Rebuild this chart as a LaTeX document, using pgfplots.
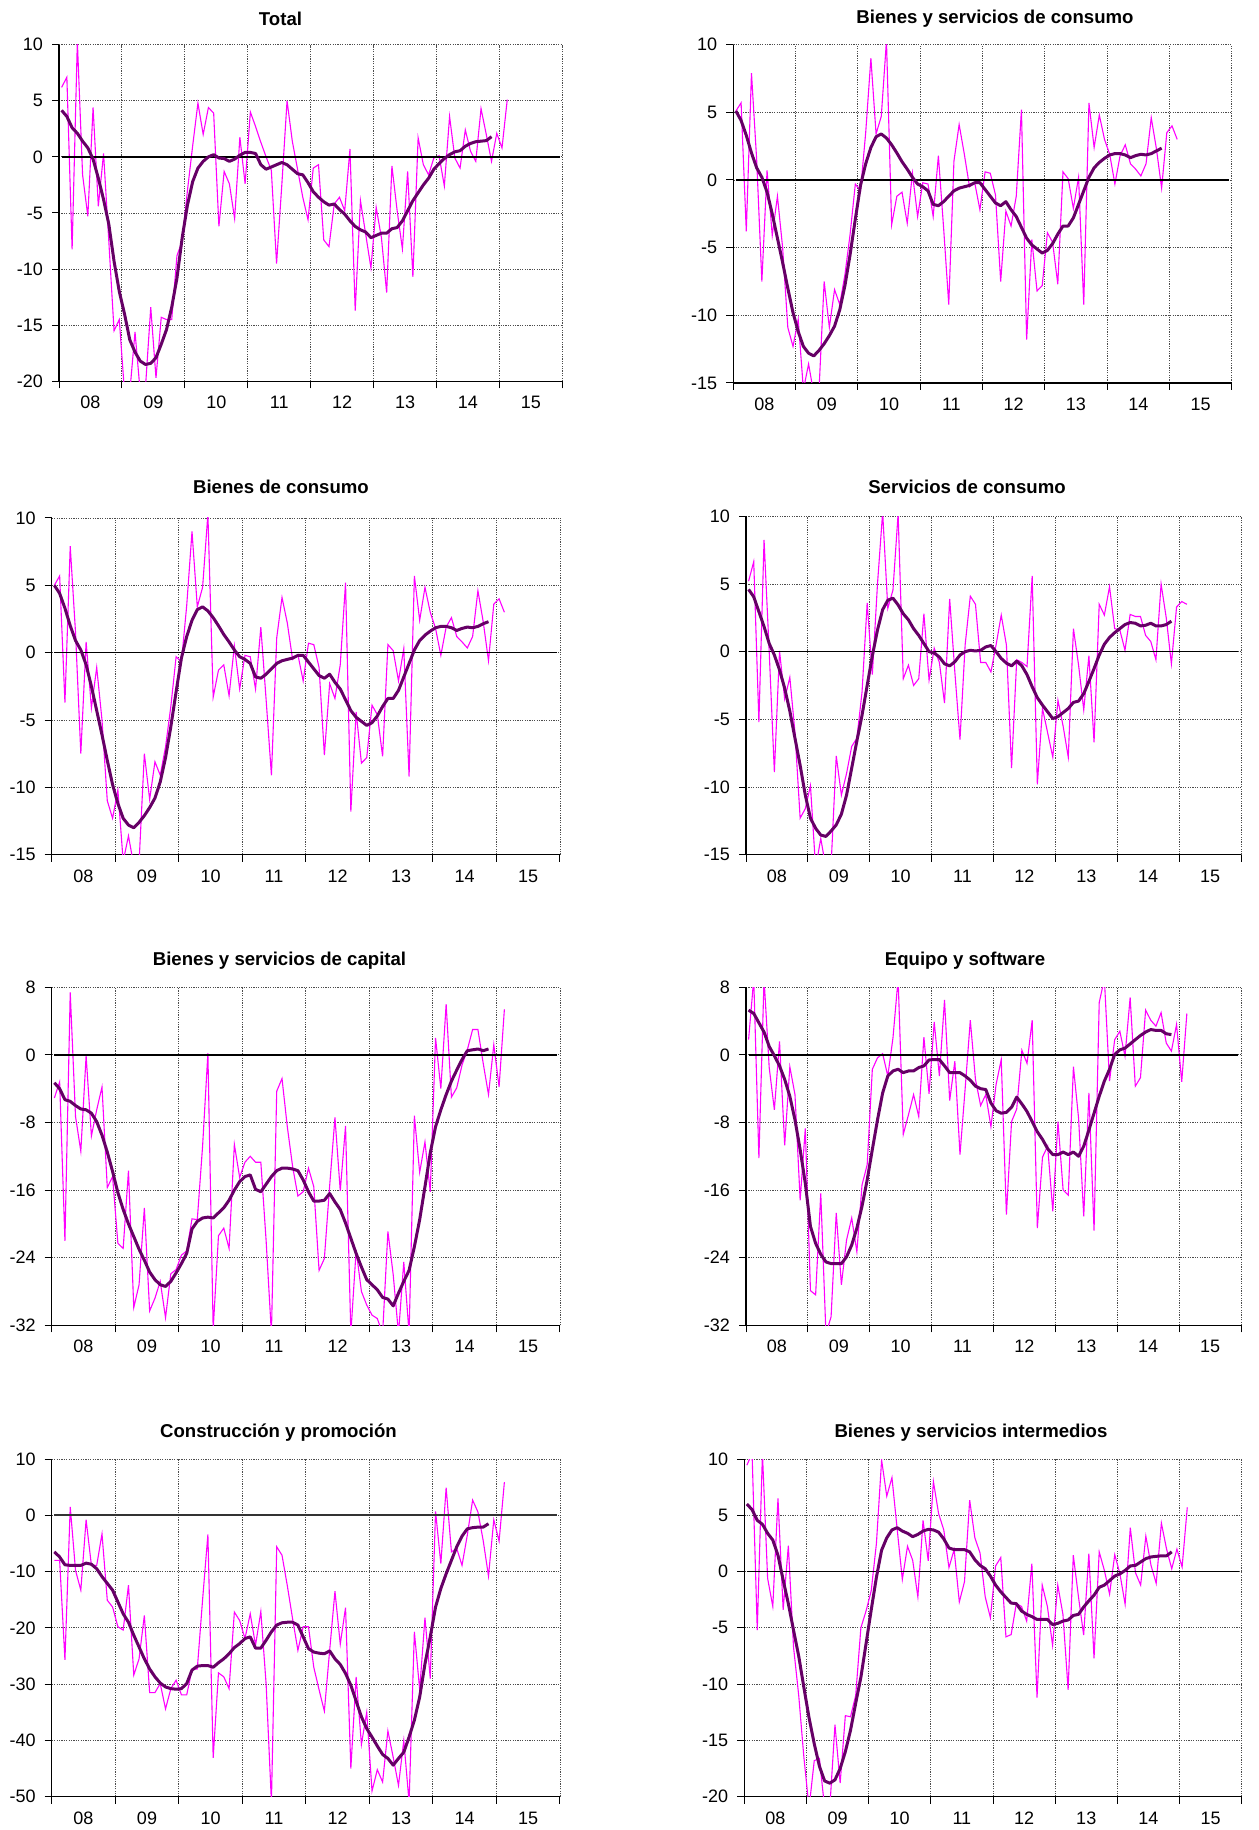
\documentclass[border=0pt]{standalone}
\usepackage{fontspec}
\setmainfont{Liberation Sans}
\usepackage{pgfplots}
\usepackage{pgfplotstable}
\pgfplotsset{compat=1.18}

\definecolor{mag}{RGB}{255,0,255}
\definecolor{purp}{RGB}{102,0,102}

% monthly series, Jan 2008 onwards (one value per row)
\pgfplotstableread[row sep=\\,header=false]{
6.2\\7.1\\-8.25\\10.3\\-1.6\\-5.3\\4.4\\-4.4\\0.3\\-7.5\\
-15.5\\-14.5\\-21\\-21\\-15.6\\-21\\-20.5\\-13.4\\-19.7\\-14.3\\
-14.5\\-14.5\\-8.8\\-7.5\\-3.0\\1.0\\4.8\\2.0\\4.4\\3.9\\
-6.2\\-1.3\\-2.4\\-5.5\\1.75\\-2.4\\4.0\\2.7\\1.3\\0.0\\
-1.2\\-9.5\\-2.5\\5.0\\1.4\\-1.1\\-3.6\\-5.6\\-1.0\\-0.7\\
-7.4\\-8.0\\-4.2\\-3.6\\-4.8\\0.7\\-13.7\\-3.9\\-6.9\\-9.9\\
-4.5\\-7.2\\-12.1\\-0.8\\-4.8\\-8.2\\-1.3\\-10.7\\1.7\\-0.7\\
-1.6\\-0.1\\0.1\\-2.6\\3.6\\-0.1\\-1.0\\2.4\\0.5\\-0.4\\
4.3\\2.0\\-0.4\\2.1\\0.8\\5.1\\}\totraw
\pgfplotstableread[row sep=\\,header=false]{
4.15\\3.6\\2.6\\2.1\\1.4\\0.8\\-0.2\\-1.9\\-3.8\\-6.0\\
-9.3\\-12.0\\-14.0\\-16.3\\-17.4\\-18.2\\-18.5\\-18.4\\-17.9\\-16.7\\
-15.4\\-13.4\\-10.8\\-7.2\\-4.3\\-2.2\\-1.0\\-0.4\\0.0\\0.2\\
-0.1\\-0.15\\-0.4\\-0.2\\0.15\\0.4\\0.4\\0.3\\-0.7\\-1.1\\
-0.9\\-0.7\\-0.5\\-0.7\\-1.1\\-1.5\\-1.6\\-2.3\\-3.1\\-3.6\\
-4.0\\-4.3\\-4.2\\-4.7\\-5.1\\-5.7\\-6.2\\-6.5\\-6.7\\-7.2\\
-7.0\\-6.8\\-6.8\\-6.4\\-6.3\\-5.7\\-4.8\\-3.9\\-3.2\\-2.5\\
-1.9\\-1.1\\-0.6\\-0.15\\0.2\\0.45\\0.55\\0.95\\1.2\\1.35\\
1.4\\1.45\\1.8\\}\totsm

\pgfplotstableread[row sep=\\,header=false]{
5.1\\5.7\\-3.8\\7.9\\1.5\\-7.5\\0.7\\-4.1\\-1.2\\-5.0\\
-10.9\\-12.3\\-10.3\\-15.5\\-13.6\\-15.8\\-15.6\\-7.5\\-10.9\\-8.1\\
-9.2\\-7.0\\-4.0\\-0.3\\-0.8\\3.5\\9.0\\3.4\\4.7\\10.3\\
-3.3\\-1.2\\-0.9\\-3.2\\0.5\\-2.7\\-0.2\\-0.3\\-2.7\\1.8\\
-3.5\\-9.2\\1.4\\4.1\\1.9\\-0.5\\-0.2\\-2.2\\0.6\\0.5\\
-1.1\\-7.5\\-2.3\\-3.4\\-1.2\\5.2\\-11.8\\-4.4\\-8.2\\-7.8\\
-3.9\\-4.6\\-7.7\\0.6\\0.1\\-2.1\\0.2\\-9.2\\5.7\\2.4\\
4.8\\3.0\\1.9\\-0.3\\1.8\\2.6\\1.2\\0.8\\0.3\\1.2\\
4.6\\2.3\\-0.6\\3.5\\4.0\\3.0\\}\bscraw
\pgfplotstableread[row sep=\\,header=false]{
5.1\\4.4\\3.3\\2.0\\0.9\\0.2\\-0.9\\-2.5\\-4.3\\-6.1\\
-8.0\\-9.8\\-11.2\\-12.3\\-12.8\\-13.0\\-12.6\\-12.1\\-11.5\\-10.8\\
-9.6\\-7.8\\-5.5\\-2.9\\-0.4\\1.2\\2.4\\3.2\\3.4\\3.1\\
2.6\\2.0\\1.35\\0.8\\0.2\\-0.3\\-0.5\\-0.8\\-1.8\\-1.9\\
-1.6\\-1.2\\-0.8\\-0.6\\-0.5\\-0.4\\-0.2\\-0.2\\-0.7\\-1.2\\
-1.7\\-1.9\\-1.6\\-2.2\\-2.7\\-3.5\\-4.3\\-4.8\\-5.1\\-5.4\\
-5.2\\-4.7\\-4.0\\-3.4\\-3.4\\-2.8\\-1.8\\-0.8\\0.2\\0.9\\
1.3\\1.6\\1.85\\1.95\\1.95\\1.85\\1.65\\1.8\\1.9\\1.85\\
1.95\\2.15\\2.35\\}\bscsm

\pgfplotstableread[row sep=\\,header=false]{
5.0\\5.7\\-3.7\\7.9\\1.5\\-7.5\\0.8\\-4.1\\-1.1\\-5.0\\
-11.0\\-12.3\\-10.2\\-15.5\\-13.6\\-15.8\\-15.6\\-7.5\\-10.9\\-8.1\\
-9.1\\-7.0\\-4.0\\-0.3\\-0.7\\3.5\\9.0\\3.4\\4.85\\10.3\\
-3.3\\-1.3\\-0.9\\-3.2\\0.5\\-2.7\\-0.2\\-0.3\\-2.7\\1.9\\
-3.5\\-9.1\\1.1\\4.1\\2.2\\-0.5\\-0.15\\-2.1\\0.7\\0.6\\
-1.1\\-7.6\\-2.3\\-3.4\\-0.9\\5.2\\-11.8\\-4.4\\-8.2\\-7.8\\
-3.9\\-4.6\\-7.7\\0.6\\0.15\\-2.1\\0.3\\-9.2\\5.7\\2.4\\
4.85\\3.0\\1.8\\-0.2\\1.9\\2.6\\1.2\\0.8\\0.35\\1.2\\
4.6\\2.3\\-0.6\\3.6\\4.0\\3.0\\}\bcraw
\pgfplotstableread[row sep=\\,header=false]{
5.0\\4.4\\3.3\\2.0\\0.9\\0.2\\-0.9\\-2.5\\-4.3\\-6.1\\
-8.0\\-9.8\\-11.2\\-12.3\\-12.8\\-13.0\\-12.6\\-12.1\\-11.5\\-10.8\\
-9.6\\-7.8\\-5.5\\-2.9\\-0.4\\1.2\\2.4\\3.2\\3.4\\3.1\\
2.6\\2.0\\1.35\\0.8\\0.2\\-0.3\\-0.5\\-0.8\\-1.8\\-1.9\\
-1.6\\-1.2\\-0.8\\-0.6\\-0.5\\-0.4\\-0.2\\-0.2\\-0.7\\-1.2\\
-1.7\\-1.9\\-1.6\\-2.2\\-2.7\\-3.5\\-4.3\\-4.8\\-5.1\\-5.4\\
-5.2\\-4.7\\-4.0\\-3.4\\-3.4\\-2.8\\-1.8\\-0.8\\0.2\\0.9\\
1.3\\1.6\\1.85\\1.95\\1.95\\1.85\\1.65\\1.8\\1.9\\1.85\\
1.95\\2.15\\2.3\\}\bcsm

\pgfplotstableread[row sep=\\,header=false]{
5.2\\6.65\\-5.2\\8.25\\0.0\\-8.9\\0.05\\-3.5\\-1.9\\-6.0\\
-12.3\\-11.6\\-9.9\\-16\\-13.8\\-16\\-15.8\\-7.7\\-10.6\\-9.0\\
-7.0\\-6.4\\-3.0\\3.6\\-1.7\\5.0\\10.3\\3.2\\4.55\\10.2\\
-2.0\\-1.0\\-2.5\\-2.0\\2.8\\-2.1\\0.25\\-0.8\\-3.8\\3.9\\
-1.5\\-6.5\\0.5\\4.1\\3.5\\-0.8\\-0.8\\-1.5\\0.5\\2.7\\
0.5\\-8.6\\-0.6\\-0.8\\-1.1\\5.6\\-9.8\\-4.2\\-6.0\\-7.8\\
-3.6\\-5.5\\-7.8\\1.7\\-1.0\\-4.3\\-0.3\\-6.7\\3.5\\2.7\\
4.8\\1.7\\1.6\\0.1\\2.75\\2.6\\2.6\\1.2\\0.75\\-0.6\\
5.0\\2.5\\-0.9\\3.3\\3.7\\3.5\\}\scraw
\pgfplotstableread[row sep=\\,header=false]{
4.6\\4.05\\2.95\\1.85\\0.6\\-0.25\\-1.35\\-2.7\\-4.4\\-6.4\\
-8.4\\-10.6\\-12.3\\-13.05\\-13.55\\-13.65\\-13.25\\-12.8\\-12.0\\-10.6\\
-8.6\\-6.6\\-4.7\\-2.5\\-0.3\\1.6\\3.1\\3.8\\3.95\\3.45\\
2.8\\2.35\\1.7\\1.2\\0.6\\0.0\\-0.1\\-0.4\\-0.9\\-1.05\\
-0.75\\-0.25\\0.0\\0.1\\0.05\\0.1\\0.35\\0.45\\0.0\\-0.5\\
-0.85\\-1.05\\-0.7\\-1.05\\-1.7\\-2.6\\-3.4\\-3.95\\-4.45\\-4.95\\
-4.8\\-4.5\\-4.2\\-3.75\\-3.65\\-3.1\\-2.2\\-1.25\\-0.25\\0.55\\
1.05\\1.4\\1.7\\2.0\\2.15\\2.1\\1.9\\1.95\\2.1\\1.9\\
1.9\\2.0\\2.25\\}\scsm

\pgfplotstableread[row sep=\\,header=false]{
-5.1\\-3.2\\-22.0\\7.4\\-7.3\\-11.4\\-0.1\\-9.6\\-6.5\\-3.8\\
-15.7\\-14.4\\-22.3\\-22.9\\-13.7\\-29.9\\-27.2\\-18.1\\-30.3\\-28.8\\
-26.8\\-31.1\\-25.9\\-25.4\\-23.7\\-23.2\\-19.4\\-19.5\\-10.8\\0.2\\
-32.5\\-21.4\\-20.5\\-22.9\\-10.6\\-14.5\\-12.7\\-12.0\\-12.7\\-12.7\\
-22.0\\-33\\-4.3\\-2.8\\-8.5\\-13.2\\-16.7\\-16.2\\-13.4\\-15.6\\
-25.5\\-24.1\\-15.5\\-7.4\\-16.1\\-8.4\\-33\\-23.1\\-28.0\\-29.6\\
-30.8\\-31.2\\-33\\-20.9\\-26\\-33\\-24.5\\-33\\-7.2\\-13.9\\
-10.3\\-16.2\\2.0\\-4.0\\6.0\\-5.0\\-3.9\\-1.2\\0.6\\3.0\\
3.0\\-1.0\\-4.7\\1.2\\-3.8\\5.4\\}\capraw
\pgfplotstableread[row sep=\\,header=false]{
-3.3\\-4.0\\-5.3\\-5.5\\-6.0\\-6.4\\-6.5\\-6.9\\-7.9\\-9.5\\
-11.5\\-13.8\\-16.3\\-18.3\\-20.0\\-21.5\\-23.0\\-24.3\\-25.7\\-26.6\\
-27.2\\-27.4\\-26.8\\-25.8\\-24.7\\-23.5\\-20.6\\-19.7\\-19.3\\-19.2\\
-19.3\\-18.7\\-18.1\\-17.2\\-16.0\\-15.0\\-14.4\\-14.2\\-15.9\\-16.2\\
-15.3\\-14.4\\-13.7\\-13.4\\-13.4\\-13.5\\-13.7\\-14.8\\-16.2\\-17.3\\
-17.3\\-17.2\\-16.4\\-17.4\\-18.3\\-19.9\\-21.7\\-23.5\\-25.1\\-26.6\\
-27.2\\-27.8\\-28.7\\-28.9\\-29.7\\-28.2\\-26.8\\-25.5\\-22.7\\-19.5\\
-15.6\\-11.6\\-8.5\\-6.5\\-4.7\\-3.1\\-1.8\\-0.55\\0.5\\0.6\\
0.7\\0.5\\0.7\\}\capsm

\pgfplotstableread[row sep=\\,header=false]{
1.8\\9.0\\-12.2\\9.0\\-1.5\\-6.5\\1.6\\-10.7\\-1.4\\-4.7\\
-17.2\\-8.7\\-27.9\\-28.4\\-16.4\\-33\\-31.0\\-18.7\\-27.2\\-21.9\\
-19.3\\-23.3\\-15.4\\-13.0\\-1.7\\-0.35\\0.15\\-2.5\\2.0\\9.0\\
-9.4\\-7.1\\-4.7\\-7.3\\2.1\\-4.6\\3.9\\-2.5\\6.5\\-5.4\\
-0.75\\-11.8\\-4.0\\4.1\\-2.9\\-6.0\\-4.7\\-8.5\\-3.5\\-0.55\\
-18.9\\-7.9\\-6.4\\0.55\\-1.0\\4.1\\-20.5\\-12.1\\-10.8\\-18.5\\
-7.9\\-16.0\\-16.6\\-1.4\\-7.5\\-19.1\\-4.5\\-20.8\\6.2\\9.0\\
-3.1\\1.8\\2.8\\-0.15\\6.8\\-3.7\\-2.7\\5.3\\4.1\\3.4\\
5.0\\1.4\\0.45\\3.6\\-3.2\\4.9\\}\eqraw
\pgfplotstableread[row sep=\\,header=false]{
5.3\\4.9\\3.8\\2.7\\1.0\\-0.1\\-1.3\\-2.9\\-4.9\\-7.7\\
-11.2\\-15.2\\-20.3\\-22.3\\-23.6\\-24.5\\-24.7\\-24.7\\-24.7\\-23.9\\
-22.5\\-20.5\\-17.9\\-14.8\\-11.2\\-7.7\\-4.5\\-2.5\\-1.9\\-1.7\\
-2.1\\-1.9\\-1.9\\-1.5\\-1.3\\-0.6\\-0.55\\-0.55\\-1.3\\-2.1\\
-2.1\\-2.1\\-2.5\\-3.0\\-3.7\\-4.0\\-4.1\\-5.7\\-6.6\\-6.9\\
-6.8\\-6.2\\-5.0\\-5.8\\-6.7\\-7.9\\-9.1\\-10.0\\-11.1\\-11.8\\
-11.8\\-11.5\\-11.8\\-11.5\\-12.0\\-10.8\\-8.9\\-6.9\\-4.9\\-3.1\\
-1.7\\0.05\\0.6\\0.8\\1.3\\1.8\\2.3\\2.7\\3.0\\2.9\\
2.9\\2.5\\2.4\\}\eqsm

\pgfplotstableread[row sep=\\,header=false]{
-8.0\\-8.0\\-25.7\\1.5\\-9.8\\-13.3\\-0.8\\-8.9\\-8.9\\-3.3\\
-15.1\\-16.3\\-19.8\\-20.4\\-12.4\\-28.4\\-25.5\\-17.8\\-31.5\\-31.5\\
-29.9\\-34.4\\-30.8\\-29.3\\-31.9\\-31.9\\-27.4\\-27.3\\-15.0\\-3.4\\
-43.1\\-28.0\\-28.7\\-30.8\\-17.2\\-18.7\\-21.9\\-17.5\\-23.1\\-17.1\\
-30.0\\-51\\-5.6\\-7.1\\-12.5\\-18.4\\-24.0\\-19.8\\-19.8\\-27.0\\
-31.0\\-34.8\\-24.0\\-13.5\\-22.9\\-16.4\\-45.0\\-28.7\\-40.7\\-35.0\\
-49.0\\-45.2\\-47.4\\-38.3\\-43.0\\-48.0\\-40.0\\-51\\-20.7\\-31.0\\
-18.2\\-29.0\\0.7\\-8.6\\4.9\\-6.5\\-5.9\\-8.9\\-3.5\\2.7\\
0.6\\-4.5\\-10.8\\-0.8\\-4.6\\5.9\\}\conraw
\pgfplotstableread[row sep=\\,header=false]{
-6.5\\-7.4\\-8.8\\-8.9\\-8.9\\-8.9\\-8.5\\-8.7\\-9.5\\-10.9\\
-12.1\\-13.3\\-15.4\\-17.5\\-19.0\\-21.3\\-23.4\\-25.5\\-27.3\\-28.7\\
-29.8\\-30.5\\-30.8\\-30.9\\-30.8\\-29.9\\-27.5\\-26.8\\-26.7\\-26.7\\
-27.0\\-26.2\\-25.5\\-24.6\\-23.5\\-22.8\\-21.9\\-21.6\\-23.6\\-23.6\\
-22.2\\-20.7\\-19.5\\-19.1\\-19.0\\-19.0\\-19.5\\-21.6\\-23.7\\-24.3\\
-24.5\\-24.6\\-24.1\\-25.5\\-26.5\\-28.1\\-30.2\\-33.0\\-35.8\\-37.9\\
-39.4\\-41.0\\-42.5\\-43.2\\-44.4\\-43.2\\-42.1\\-39.4\\-36.4\\-32.3\\
-26.4\\-21.6\\-16.3\\-13.0\\-10.4\\-8.0\\-5.6\\-3.7\\-2.4\\-2.2\\
-2.1\\-2.1\\-1.5\\}\consm

\pgfplotstableread[row sep=\\,header=false]{
9.45\\10.5\\-5.2\\10.5\\-0.6\\-3.1\\6.5\\-3.4\\2.3\\-6.7\\
-11.0\\-16.5\\-21\\-16.8\\-16.6\\-21\\-21\\-13.6\\-18.8\\-12.8\\
-12.9\\-11.0\\-5.0\\-3.5\\-1.7\\2.5\\9.9\\6.7\\8.35\\3.8\\
-0.7\\2.25\\1.0\\-2.25\\4.55\\0.95\\8.0\\5.15\\3.7\\0.35\\
1.95\\-2.7\\-0.9\\6.35\\3.0\\1.65\\-2.25\\-4.1\\0.5\\1.25\\
-5.8\\-5.6\\-2.85\\-3.1\\-4.4\\0.7\\-11.2\\-1.2\\-3.1\\-6.55\\
-1.2\\-3.8\\-10.5\\1.45\\-2.25\\-5.65\\1.6\\-7.7\\1.75\\0.1\\
-2.0\\1.5\\-0.2\\-2.9\\3.9\\-0.1\\-1.2\\3.15\\0.55\\-1.05\\
4.3\\2.0\\0.25\\2.0\\0.4\\5.7\\}\intraw
\pgfplotstableread[row sep=\\,header=false]{
6.0\\5.5\\4.55\\4.2\\3.4\\2.8\\1.45\\-0.75\\-2.85\\-5.2\\
-7.5\\-10.3\\-13.0\\-15.3\\-17.3\\-18.6\\-18.8\\-18.5\\-17.5\\-16.0\\
-14.1\\-11.7\\-9.4\\-6.4\\-3.4\\-0.5\\1.9\\3.0\\3.7\\3.9\\
3.6\\3.4\\3.1\\3.3\\3.6\\3.75\\3.7\\3.5\\2.9\\2.1\\
1.95\\1.95\\1.95\\1.75\\1.05\\0.55\\0.25\\-0.4\\-1.2\\-1.8\\
-2.3\\-2.8\\-2.85\\-3.5\\-3.8\\-4.0\\-4.25\\-4.25\\-4.25\\-4.7\\
-4.6\\-4.4\\-4.3\\-3.9\\-3.8\\-3.15\\-2.6\\-2.1\\-1.4\\-1.2\\
-0.8\\-0.4\\-0.2\\0.1\\0.5\\0.55\\0.85\\1.15\\1.3\\1.35\\
1.4\\1.4\\1.75\\}\intsm

\pgfplotsset{
  panel/.style={
    scale only axis,
    xmin=0, xmax=96,
    axis x line*=bottom, axis y line*=left,
    axis line style={black, line width=0.6pt},
    xtick={0,12,...,96}, xticklabel=\empty,
    extra x ticks={6,18,30,42,54,66,78,90},
    extra x tick labels={08,09,10,11,12,13,14,15},
    extra x tick style={grid=none, major tick length=0pt,
      tick label style={yshift=-4pt}},
    grid=major,
    major grid style={draw=black!70, line width=0.45pt, dash pattern=on 0.6pt off 0.6pt},
    tick align=outside, major tick length=3.5pt,
    every tick/.style={black, line width=0.5pt},
    tick label style={font=\fontsize{9}{10}\selectfont},
    /pgf/number format/assume math mode=true,
    yticklabel style={xshift=-1pt},
  },
  raw/.style={draw=mag, line width=0.55pt, mark=none},
  smo/.style={draw=purp, line width=1.5pt, mark=none, line join=round},
  zero/.style={draw=black, line width=0.8pt, mark=none},
}
\newcommand{\panelplots}[3][]{%
  \addplot[raw] table[x expr=\coordindex+0.5, y index=0] {#2};
  \addplot[zero,#1] coordinates {(0.5,0) (95.5,0)};
  \addplot[smo] table[x expr=\coordindex+0.5, y index=0] {#3};
}

\begin{document}
\begin{tikzpicture}
\path[use as bounding box] (0,0) rectangle (629pt,915pt);
\tikzset{ttl/.style={anchor=base, font=\bfseries\fontsize{9.3}{11}\selectfont}}

\begin{axis}[panel, at={(29.5pt,724.35pt)}, anchor=south west,
  width=251.65pt, height=168.3pt, ymin=-20, ymax=10, ytick={-20,-15,...,10}]
\panelplots{\totraw}{\totsm}
\end{axis}
\node[ttl] at (140.25pt,902pt) {Total};

\begin{axis}[panel, at={(366.65pt,723.5pt)}, anchor=south west,
  width=249.2pt, height=169.15pt, ymin=-15, ymax=10, ytick={-15,-10,...,10}]
\panelplots{\bscraw}{\bscsm}
\end{axis}
\node[ttl] at (497.5pt,903.35pt) {Bienes y servicios de consumo};

\begin{axis}[panel, at={(25.85pt,487.65pt)}, anchor=south west,
  width=254.15pt, height=168.35pt, ymin=-15, ymax=10, ytick={-15,-10,...,10}]
\panelplots{\bcraw}{\bcsm}
\end{axis}
\node[ttl] at (140.5pt,668pt) {Bienes de consumo};

\begin{axis}[panel, at={(373pt,487.65pt)}, anchor=south west,
  width=247.5pt, height=169.2pt, ymin=-15, ymax=10, ytick={-15,-10,...,10}]
\panelplots{\scraw}{\scsm}
\end{axis}
\node[ttl] at (483.5pt,668pt) {Servicios de consumo};

\begin{axis}[panel, at={(25.85pt,252.35pt)}, anchor=south west,
  width=254.15pt, height=169pt, ymin=-32, ymax=8, ytick={-32,-24,...,8}]
\panelplots{\capraw}{\capsm}
\end{axis}
\node[ttl] at (139.75pt,432pt) {Bienes y servicios de capital};

\begin{axis}[panel, at={(373pt,252.35pt)}, anchor=south west,
  width=247.5pt, height=169pt, ymin=-32, ymax=8, ytick={-32,-24,...,8}]
\panelplots{\eqraw}{\eqsm}
\end{axis}
\node[ttl] at (482.5pt,432pt) {Equipo y software};

\begin{axis}[panel, at={(25.85pt,16.65pt)}, anchor=south west,
  width=254.15pt, height=168.85pt, ymin=-50, ymax=10, ytick={-50,-40,...,10}]
\panelplots[draw=black!80, line width=1.2pt]{\conraw}{\consm}
\end{axis}
\node[ttl] at (139.25pt,196.35pt) {Construcción y promoción};

\begin{axis}[panel, at={(372.15pt,16.65pt)}, anchor=south west,
  width=248.7pt, height=168.85pt, ymin=-20, ymax=10, ytick={-20,-15,...,10}]
\panelplots{\intraw}{\intsm}
\end{axis}
\node[ttl] at (485.5pt,196.35pt) {Bienes y servicios intermedios};
\end{tikzpicture}
\end{document}
